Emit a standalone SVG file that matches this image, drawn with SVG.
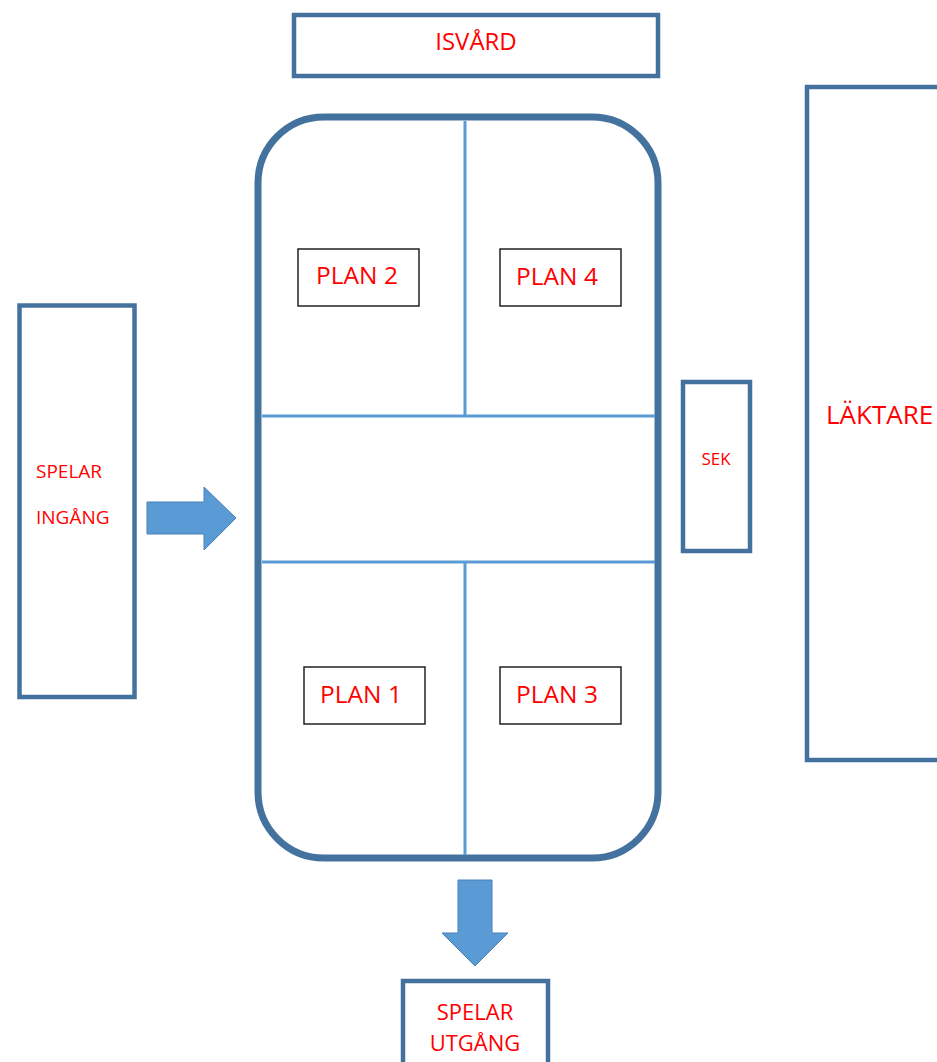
<svg xmlns="http://www.w3.org/2000/svg" width="937" height="1062" viewBox="0 0 937 1062">
<style>
.box{fill:#fff;stroke:#44729e;stroke-width:4.5}
.plan{fill:#fff;stroke:#222;stroke-width:1.5}
.div{stroke:#5b9bd5;stroke-width:3;fill:none}
.arrow{fill:#5b9bd5;stroke:#4a80b8;stroke-width:1}
text{font-family:"Open Sans","Liberation Sans",sans-serif;fill:#ff0000}
</style>
<rect width="937" height="1062" fill="#fff"/>
<g id="isvard"><rect class="box" x="294" y="15" width="364" height="61"/><text x="476" y="50" font-size="24" text-anchor="middle">ISVÅRD</text></g>
<g id="rink"><rect x="258" y="117" width="400" height="741" rx="66" ry="66" fill="#fff" stroke="#44729e" stroke-width="7"/></g>
<g id="dividers">
<line class="div" x1="465" y1="121" x2="465" y2="416"/>
<line class="div" x1="262" y1="416" x2="655" y2="416"/>
<line class="div" x1="262" y1="562" x2="655" y2="562"/>
<line class="div" x1="465" y1="562" x2="465" y2="855"/>
</g>
<g id="plan2"><rect class="plan" x="298" y="249" width="121" height="57"/><text x="357" y="284" font-size="24.5" text-anchor="middle">PLAN 2</text></g>
<g id="plan4"><rect class="plan" x="500" y="249" width="121" height="57"/><text x="557" y="285" font-size="24.5" text-anchor="middle">PLAN 4</text></g>
<g id="plan1"><rect class="plan" x="304" y="667" width="121" height="57"/><text x="361" y="703" font-size="24.5" text-anchor="middle">PLAN 1</text></g>
<g id="plan3"><rect class="plan" x="500" y="667" width="121" height="57"/><text x="557" y="703" font-size="24.5" text-anchor="middle">PLAN 3</text></g>
<g id="spelar-ingang"><rect class="box" x="19.5" y="305.5" width="115" height="391.5"/><text x="36" y="478" font-size="19">SPELAR</text><text x="36" y="524" font-size="19">INGÅNG</text></g>
<g id="sek"><rect class="box" x="683" y="382" width="67" height="169"/><text x="716" y="465" font-size="17" text-anchor="middle">SEK</text></g>
<g id="laktare"><rect class="box" x="807" y="87" width="140" height="673"/><text x="826" y="424" font-size="26">LÄKTARE</text></g>
<g id="spelar-utgang"><rect class="box" x="403" y="981" width="145" height="100"/><text x="475" y="1020" font-size="22" text-anchor="middle">SPELAR</text><text x="475" y="1051" font-size="22" text-anchor="middle">UTGÅNG</text></g>
<g id="connectors">
<polygon class="arrow" points="147,502 204,502 204,487 236,518 204,550 204,534 147,534"/>
<polygon class="arrow" points="458,880 492,880 492,933 508,933 475,966 442,933 458,933"/>
</g>
</svg>
